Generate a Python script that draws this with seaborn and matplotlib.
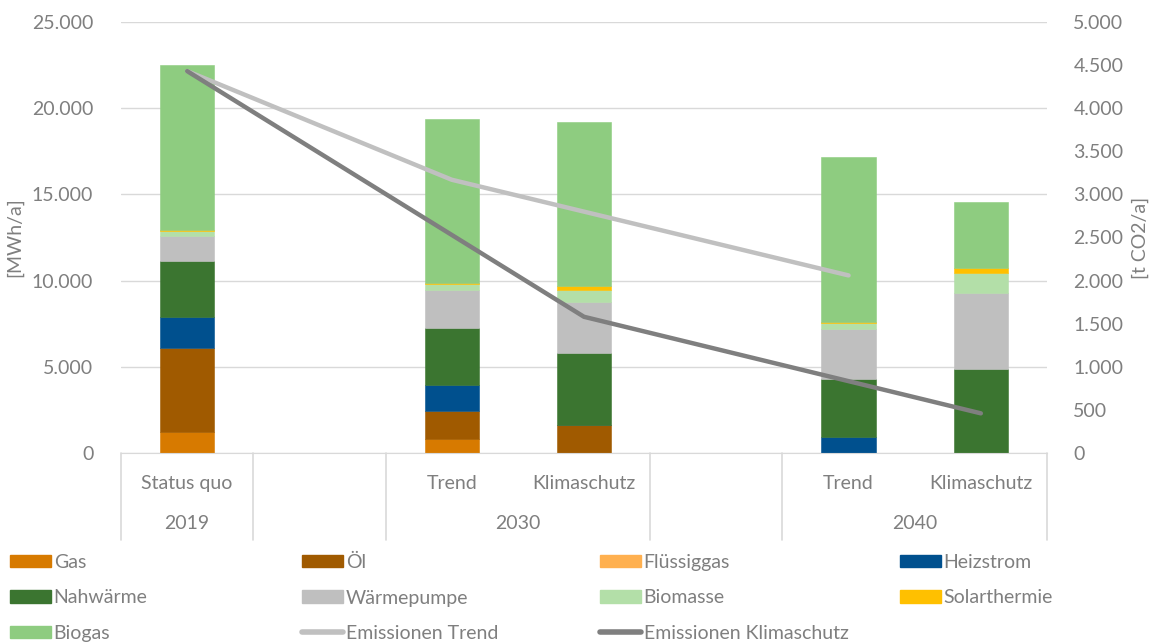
import numpy as np
import pandas as pd
import seaborn as sns
import matplotlib.pyplot as plt
from matplotlib import ticker
from matplotlib.patches import Patch
from matplotlib.lines import Line2D

# categories (two empty spacer slots like in the excel sheet)
cats = ["Status quo", "", "Trend", "Klimaschutz", "", "Trend", "Klimaschutz"]
years = ["2019", "2030", "2040"]
year_pos = [0, 2.5, 5.5]

# energy demand per carrier [MWh/a]
gas        = [1200, 0,  800,    0, 0,    0,    0]
oel        = [4900, 0, 1650, 1600, 0,    0,    0]
fluessig   = [   0, 0,    0,    0, 0,    0,    0]
heizstrom  = [1780, 0, 1500,    0, 0,  950,    0]
nahwaerme  = [3250, 0, 3320, 4180, 0, 3320, 4890]
waermepump = [1450, 0, 2190, 3000, 0, 2920, 4410]
biomasse   = [ 270, 0,  330,  670, 0,  330, 1120]
solar      = [  60, 0,   90,  240, 0,  100,  330]
biogas     = [9590, 0, 9490, 9490, 0, 9530, 3810]

# emissions [t CO2/a]
em_trend = [4430, np.nan, 3170, np.nan, np.nan, 2060, np.nan]
em_klima = [4430, np.nan, np.nan, 1580, np.nan, np.nan, 460]

series = [("Gas", gas, "#D77A00"),
          ("Öl", oel, "#A05A00"),
          ("Flüssiggas", fluessig, "#FFB04F"),
          ("Heizstrom", heizstrom, "#00508E"),
          ("Nahwärme", nahwaerme, "#3B7530"),
          ("Wärmepumpe", waermepump, "#BFBFBF"),
          ("Biomasse", biomasse, "#B3DFA8"),
          ("Solarthermie", solar, "#FFC000"),
          ("Biogas", biogas, "#8ECC80")]

sns.set_style("white")
plt.rcParams['font.family'] = ['Lato', 'DejaVu Sans']
txt = "#7F7F7F"
grid = "#D9D9D9"
fs = 14

fig = plt.figure(figsize=(11.56, 6.43), dpi=100)
ax = fig.add_axes([0.1047, 0.2955, 0.801, 0.6703])
ax2 = ax.twinx()

x = np.arange(len(cats))
bottom = np.zeros(len(cats))
for name, vals, col in series:
    ax.bar(x, vals, width=0.41, bottom=bottom, color=col, edgecolor=col,
           linewidth=0.4, label=name, zorder=2)
    bottom += np.array(vals)

# emission lines (gaps are bridged like in excel)
for vals, col in [(em_trend, "#C0C0C0"), (em_klima, "#7F7F7F")]:
    s = pd.Series(vals, index=x).dropna()
    sns.lineplot(x=s.index, y=s.values, ax=ax2, color=col, linewidth=3.2,
                 solid_capstyle='round', legend=False)

ax.set_xlim(-0.5, 6.5)
ax.set_ylim(0, 25000)
ax2.set_ylim(0, 5000)
ax.yaxis.set_major_locator(ticker.MultipleLocator(5000))
ax2.yaxis.set_major_locator(ticker.MultipleLocator(500))
fmt = ticker.FuncFormatter(lambda v, p: f"{int(v):,}".replace(",", "."))
ax.yaxis.set_major_formatter(fmt)
ax2.yaxis.set_major_formatter(fmt)

ax.grid(axis='y', color=grid, linewidth=1)
ax.set_axisbelow(True)
for a in (ax, ax2):
    for sp in a.spines.values():
        sp.set_visible(False)
ax.spines['bottom'].set_visible(True)
ax.spines['bottom'].set_color(grid)
ax.tick_params(axis='y', length=0, pad=20, labelsize=fs, labelcolor=txt)
ax2.tick_params(axis='y', length=0, pad=19, labelsize=fs, labelcolor=txt)
ax.set_xticks(x)
ax.set_xticklabels(cats)
ax.tick_params(axis='x', length=0, pad=16, labelsize=fs, labelcolor=txt)

ax.set_ylabel("[MWh/a]", color=txt, fontsize=fs, labelpad=6)
ax2.set_ylabel("[t CO2/a]", color=txt, fontsize=fs, labelpad=6)

# second level category labels and separators
trans = ax.get_xaxis_transform()
for yr, pos in zip(years, year_pos):
    ax.text(pos, -0.164, yr, transform=trans, ha='center', va='center',
            fontsize=fs, color=txt)
for sep in [-0.5, 0.5, 1.5, 3.5, 4.5, 6.5]:
    ax.plot([sep, sep], [0, -0.202], transform=trans, color=grid,
            linewidth=1.2, clip_on=False)

# legend, row-wise like excel: one legend per column
h = {name: Patch(facecolor=col, edgecolor=col) for name, _, col in series}
h["Emissionen Trend"] = Line2D([], [], color="#C0C0C0", linewidth=4)
h["Emissionen Klimaschutz"] = Line2D([], [], color="#7F7F7F", linewidth=4)
columns = [["Gas", "Nahwärme", "Biogas"],
           ["Öl", "Wärmepumpe", "Emissionen Trend"],
           ["Flüssiggas", "Biomasse", "Emissionen Klimaschutz"],
           ["Heizstrom", "Solarthermie"]]
col_x = [6, 298, 596, 896]
for names, cx in zip(columns, col_x):
    leg = fig.legend([h[k] for k in names], names, loc='upper left',
                     bbox_to_anchor=(cx / 1156, 1 - 550 / 643),
                     frameon=False, fontsize=fs, handlelength=2.1,
                     handleheight=0.6, handletextpad=0.15, labelspacing=0.95,
                     borderaxespad=0, borderpad=0.2)
    for t in leg.get_texts():
        t.set_color(txt)

plt.savefig("out.png", dpi=100)
